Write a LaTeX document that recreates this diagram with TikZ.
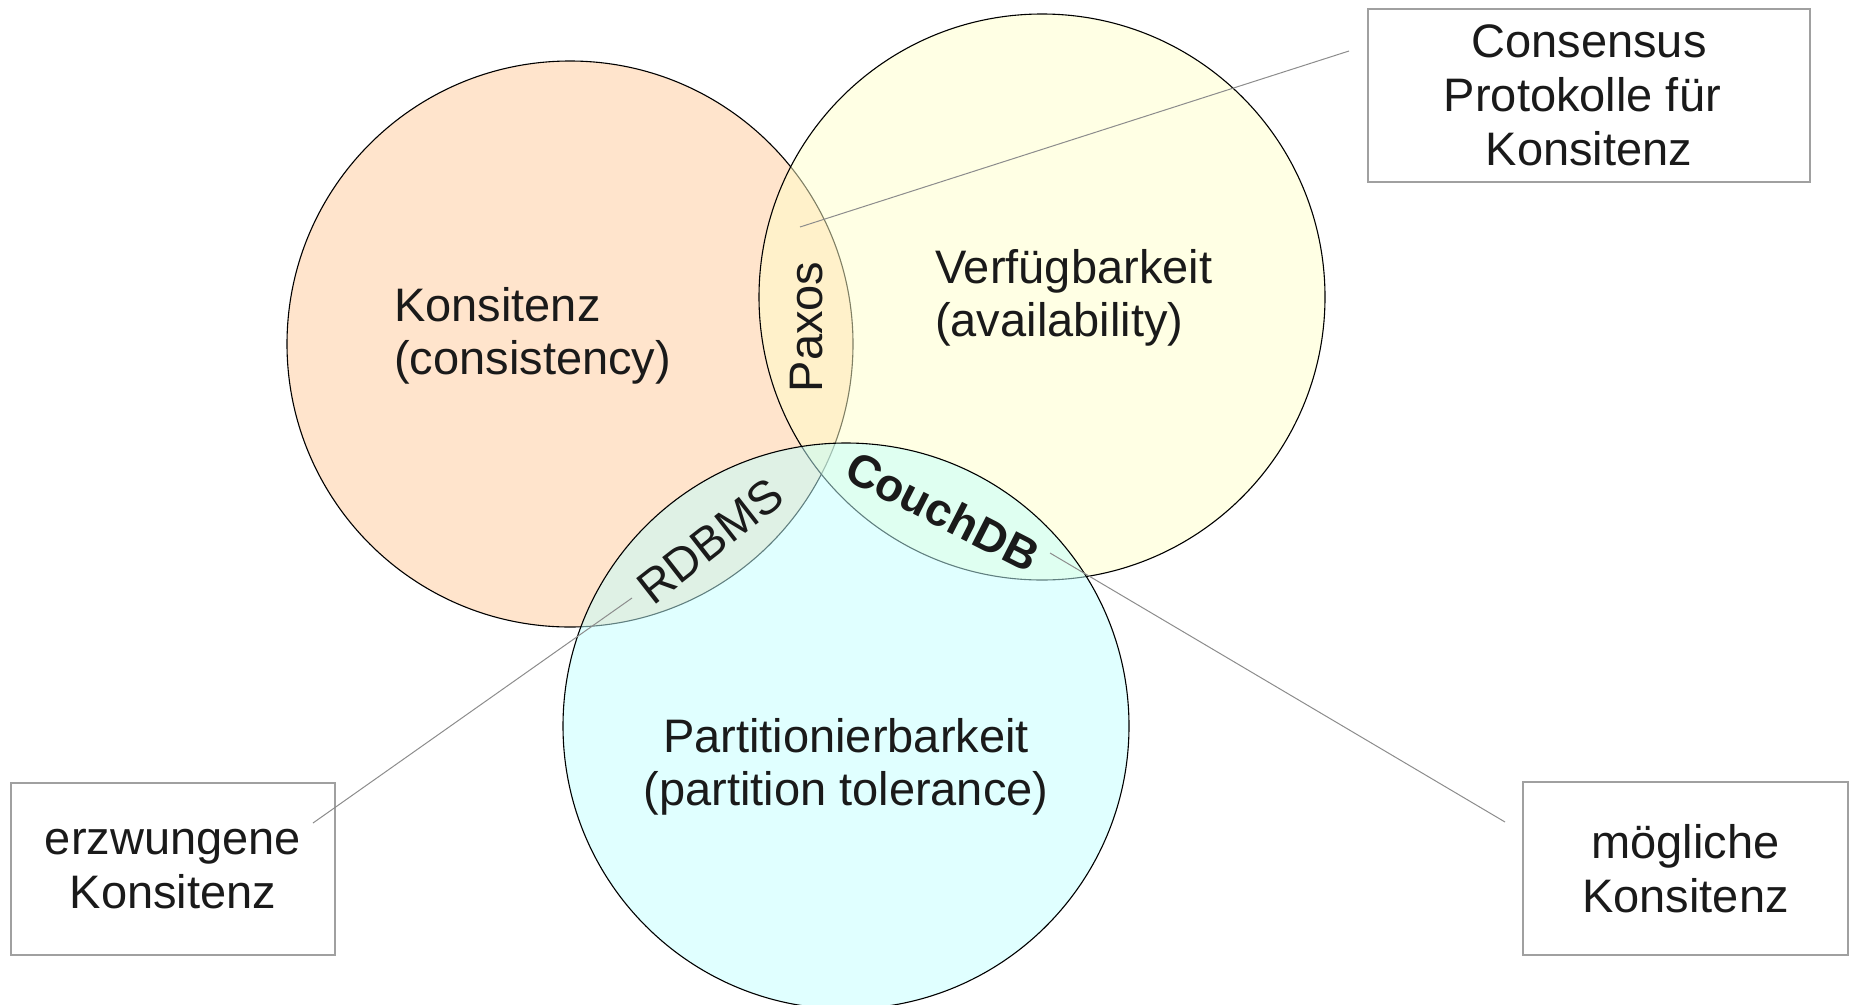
\documentclass[tikz,border=0pt]{standalone}
\usepackage{fontspec}
\setmainfont{Liberation Sans}
\definecolor{colC}{HTML}{FFE4CC}
\definecolor{colA}{HTML}{FFFFC9}
\definecolor{colP}{HTML}{C1FFFF}
\definecolor{txt}{HTML}{1A1A1A}
\definecolor{boxline}{HTML}{A0A0A0}
\definecolor{leader}{HTML}{8C8C8C}
\begin{document}
\begin{tikzpicture}[x=1pt,y=-1pt,
  venn/.style={circle, minimum size=566pt, inner sep=0pt, draw=black, line width=1.1pt},
  lbl/.style={font=\fontsize{47}{53}\selectfont, text=txt, inner sep=0pt},
  notebox/.style={draw=boxline, line width=1.3pt, fill=white, inner sep=0pt, align=center,
    font=\fontsize{47}{54}\selectfont, text=txt},
  leaderline/.style={draw=leader, line width=1pt}]
\useasboundingbox (0,0) rectangle (1854,1004);
% circles
\node[venn, fill=colC] (C) at (570,344) {};
\node[venn, fill=colA, fill opacity=0.5] (A) at (1042,297) {};
\node[venn, fill=colP, fill opacity=0.5] (P) at (846,726) {};
% main labels
\node[lbl, align=left, anchor=west] (tC) at (394,336) {Konsitenz\\(consistency)};
\node[lbl, align=left, anchor=west] (tA) at (935,297.5) {Verfügbarkeit\\(availability)};
\node[lbl, align=center] (tP) at (846,766.5) {Partitionierbarkeit\\(partition tolerance)};
% intersection labels
\node[lbl, rotate=90] (paxos) at (807,327) {Paxos};
\node[lbl, rotate=38] (rdbms) at (710,541) {RDBMS};
\node[lbl, rotate=-27, font=\fontsize{46}{53}\selectfont\bfseries] (couch) at (943,511) {CouchDB};
% boxes
\node[notebox, minimum width=442pt, minimum height=173pt] (bCons) at (1589,95.5)
  {Consensus\\Protokolle für\kern0.28em\\Konsitenz};
\node[notebox, minimum width=324pt, minimum height=172pt] (bErz) at (173,869)
  {erzwungene\\Konsitenz};
\node[notebox, minimum width=325pt, minimum height=173pt] (bMog) at (1685.5,868.5)
  {mögliche\\Konsitenz};
% leader lines
\coordinate (l1a) at (1349,51);
\coordinate (l1b) at (800,227);
\coordinate (l2a) at (313,823);
\coordinate (l2b) at (632,598);
\coordinate (l3a) at (1050,553);
\coordinate (l3b) at (1505,822);
\draw[leaderline] (l1a) -- (l1b);
\draw[leaderline] (l2a) -- (l2b);
\draw[leaderline] (l3a) -- (l3b);
\end{tikzpicture}
\end{document}
